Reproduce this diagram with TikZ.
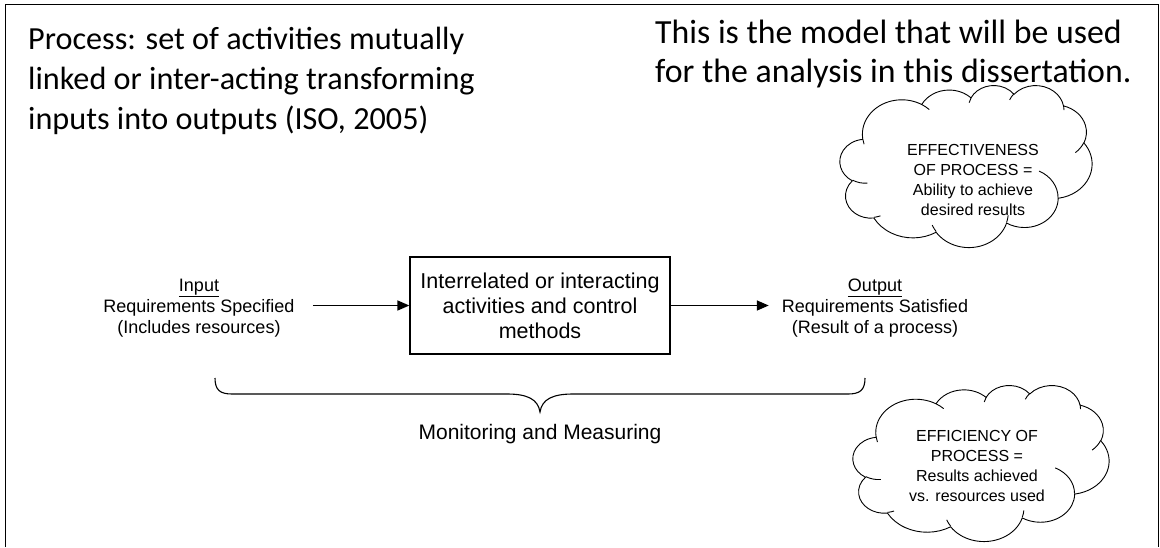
\documentclass[tikz,border=0pt]{standalone}
\usepackage{fontspec}
\setmainfont{Liberation Sans}
\newfontfamily\headfont{Carlito}
\usetikzlibrary{arrows.meta}

% ---------- cloud outline (arcs given as ellipse radii, start and sweep angles) ----------
\newcommand\cloudpath{}
\newcommand\addcloudarc[4]{%
  \pgfmathsetmacro\cldts{atan2((#1)*sin(#3),(#2)*cos(#3))}%
  \pgfmathsetmacro\cldte{atan2((#1)*sin((#3)+(#4)),(#2)*cos((#3)+(#4)))}%
  \pgfmathsetmacro\cldd{\cldte-\cldts}%
  \pgfmathsetmacro\cldd{\cldd+360*round(((#4)-\cldd)/360)}%
  \xdef\cloudpath{\cloudpath arc[start angle=\cldts, delta angle=\cldd, x radius=#1, y radius=#2]}%
}
\newcommand\cloudstroke[6]{%
  \pgfmathsetmacro\cldts{atan2((#3)*sin(#5),(#4)*cos(#5))}%
  \pgfmathsetmacro\cldte{atan2((#3)*sin((#5)+(#6)),(#4)*cos((#5)+(#6)))}%
  \pgfmathsetmacro\cldd{\cldte-\cldts}%
  \pgfmathsetmacro\cldd{\cldd+360*round(((#6)-\cldd)/360)}%
  \draw[cloudline] (#1,#2) arc[start angle=\cldts, delta angle=\cldd, x radius=#3, y radius=#4];
}
% #1,#2: top left corner, #3,#4: width and height
\newcommand\drawcloud[4]{%
  \pgfmathsetmacro\cldsx{#3/432}%
  \pgfmathsetmacro\cldsy{#4/432}%
  \begin{scope}[shift={(#1,#2)}, x=\cldsx pt, y=-\cldsy pt]
    \gdef\cloudpath{}%
    \foreach \wr/\hr/\st/\sw in {
      67.53/91.90/-190.487/123.781,
      53.33/72.67/-144.102/89.945,
      43.65/59.45/-145.808/99.723,
      48.57/65.95/-130.986/117.242,
      53.33/72.73/-78.709/109.027,
      67.75/92.20/-46.267/130.269,
      57.85/78.67/0.625/114.033,
      67.52/92.15/22.452/115.173,
      77.20/105.43/66.243/75.711,
      43.60/59.18/-274.942/146.736,
      43.45/59.45/-246.829/152.519}{\addcloudarc{\wr}{\hr}{\st}{\sw}}%
    \edef\cldcmd{\noexpand\draw[cloudline, fill=white] (39.00,143.70) \cloudpath -- cycle;}%
    \cldcmd
    \foreach \px/\py/\wr/\hr/\st/\sw in {
      46.93/261.77/43.45/59.45/86.742/26.430,
      69.28/348.99/43.60/59.18/73.610/11.447,
      164.78/390.90/67.52/92.15/137.624/14.081,
      288.27/347.51/67.52/92.15/6.453/15.998,
      341.29/229.54/57.85/78.67/-70.292/70.917,
      417.98/153.54/53.33/72.73/30.318/27.752,
      383.24/54.26/48.57/65.95/-13.744/14.859,
      290.78/39.52/48.57/65.95/-149.181/18.195,
      221.41/47.20/43.65/59.45/-163.494/17.686,
      140.00/51.92/67.53/91.90/-66.707/12.319,
      41.27/157.89/67.53/91.90/157.654/11.858}{\cloudstroke{\px}{\py}{\wr}{\hr}{\st}{\sw}}%
  \end{scope}}

\tikzset{
  frameline/.style={line width=1.5pt},
  headtext/.style={align=left, inner sep=0pt, anchor=base west},
  flowtext/.style={font=\fontsize{18}{21}\selectfont, align=center, inner ysep=0pt},
  procbox/.style={draw, line width=1.3pt, minimum width=260pt, minimum height=97pt,
    align=center, font=\fontsize{21.5}{25}\selectfont, inner sep=0pt},
  flowarrow/.style={line width=1.6pt, -{Triangle[length=12pt, width=10pt]}},
  cloudline/.style={line width=0.9pt, line join=round},
  cloudtext/.style={font=\fontsize{16}{20}\selectfont, align=center, inner sep=0pt},
  bracket/.style={line width=1.1pt},
}

\begin{document}
\begin{tikzpicture}[x=1pt, y=-1pt]
  \useasboundingbox (0,0) rectangle (1160,547);
  \fill[white] (0,0) rectangle (1160,547);

  % open frame round the page
  \draw[frameline] (5.5,547) -- (5.5,4.5) -- (1158.5,4.5) -- (1158.5,547);

  % headings (anchored at the baseline of their last line)
  \node[headtext, font=\headfont\fontsize{32.2}{40}\selectfont] (definition) at (28,129)
    {Process: set of activities mutually\\linked or inter-acting transforming\\inputs into outputs (ISO, 2005)};
  \node[headtext, font=\headfont\fontsize{33.8}{39}\selectfont] (model) at (655,82)
    {This is the model that will be used\\for the analysis in this dissertation.};

  % process chain
  \node[procbox] (proc) at (540,305.5)
    {Interrelated or interacting\\activities and control\\methods};
  \node[flowtext, inner xsep=18pt] (in) at (199,308)
    {\underline{Input}\\Requirements Specified\\(Includes resources)};
  \node[flowtext, inner xsep=13pt] (out) at (875,308)
    {\underline{Output}\\Requirements Satisfied\\(Result of a process)};
  \draw[flowarrow] (in.east |- proc.west) -- (proc.west);
  \draw[flowarrow] (proc.east) -- (out.west |- proc.east);

  % brace under the chain
  \coordinate (braceL) at (215,378);
  \coordinate (braceR) at (865,378);
  \coordinate (braceTip) at (540,412);
  \draw[bracket] (braceL) .. controls (215,390) and (220,394) .. (232,394)
    -- (507,394) .. controls (527,394) and (538,399) .. (braceTip)
    .. controls (542,399) and (553,394) .. (573,394)
    -- (848,394) .. controls (860,394) and (865,390) .. (braceR);
  \node[font=\fontsize{21}{25}\selectfont] (monitor) at (540,434) {Monitoring and Measuring};

  % clouds
  \drawcloud{840}{85}{252}{162}
  \node[cloudtext] (effect) at (973,180)
    {EFFECTIVENESS\\OF PROCESS =\\Ability to achieve\\desired results};
  \drawcloud{853}{385}{256}{156}
  \node[cloudtext] (effic) at (977,466)
    {EFFICIENCY OF\\PROCESS =\\Results achieved\\vs. resources used};
\end{tikzpicture}
\end{document}
